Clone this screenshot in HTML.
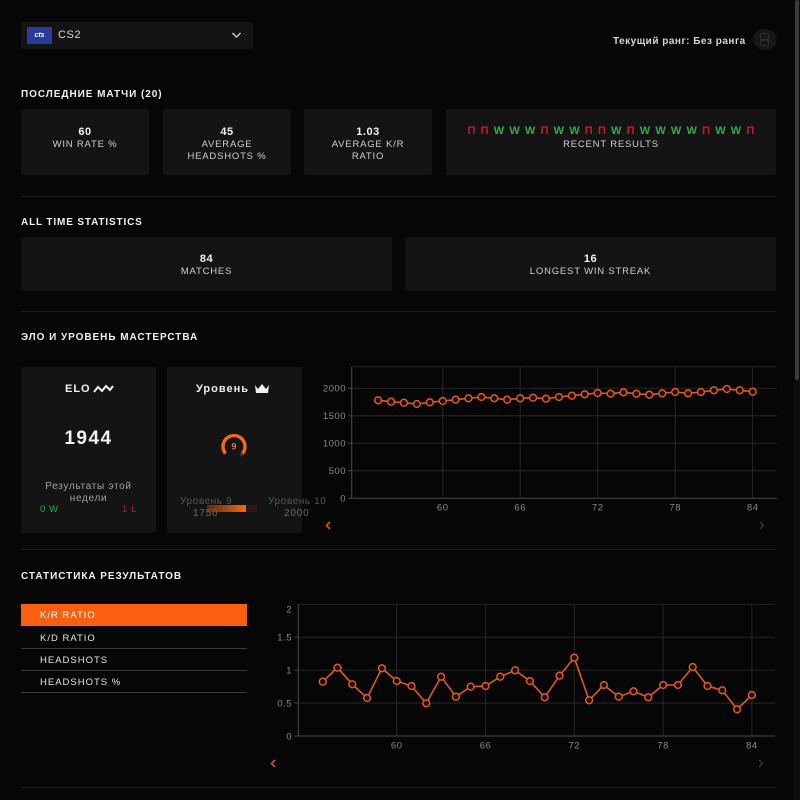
<!DOCTYPE html>
<html><head><meta charset="utf-8">
<style>
*{margin:0;padding:0;box-sizing:border-box}
html,body{width:800px;height:800px;overflow:hidden;background:#060606}
body{position:relative;font-family:"Liberation Sans","DejaVu Sans",sans-serif;color:#e6e6e6}
.a{position:absolute}
.card{position:absolute;background:#141414;border-radius:2px}
.h{position:absolute;font-size:10px;font-weight:bold;color:#f0f0f0;letter-spacing:0.95px;white-space:nowrap}
.sep{position:absolute;left:21px;width:755px;height:1px;background:#1b1b1b}
.num{font-size:11px;font-weight:bold;color:#f2f2f2;text-align:center;line-height:13px;letter-spacing:0.5px}
.lab{font-size:9.5px;color:#cfcfcf;text-align:center;line-height:12px;letter-spacing:0.8px}
.c{position:absolute;text-align:center;white-space:nowrap}
.W{color:#2fae47}.L{color:#c8182c}
.tab{position:absolute;left:40px;font-size:9.5px;letter-spacing:1px;color:#e6e6e6}
</style></head><body>
<!-- scrollbar -->
<div class="a" style="left:794px;top:0;width:6px;height:800px;background:#0d0d0d"></div>
<div class="a" style="left:795px;top:0;width:4px;height:380px;background:#3a3a3a;border-radius:2px"></div>

<!-- dropdown -->
<div class="card" style="left:21px;top:22px;width:232px;height:27px;background:#141414"></div>
<div class="a" style="left:27px;top:27px;width:25px;height:17px;background:#2a3c9a;color:#fff;font-size:7px;font-weight:bold;font-style:italic;text-align:center;line-height:17px">cts</div>
<div class="a" style="left:58px;top:29px;font-size:11px;letter-spacing:0.6px;color:#d8d8d8">CS2</div>
<svg class="a" style="left:231px;top:31px" width="11" height="8"><polyline points="1.5,2 5.5,6 9.5,2" fill="none" stroke="#cfcfcf" stroke-width="1.4"/></svg>

<div class="a" style="left:613px;top:35.5px;font-size:10px;letter-spacing:0.5px;font-weight:bold;color:#d6d6d6;white-space:nowrap">Текущий ранг: Без ранга</div>
<div class="a" style="left:753px;top:29px;width:24px;height:21px;border-radius:50%;background:#171717"></div>
<div class="a" style="left:760px;top:33px;width:9px;height:13px;border:1.5px solid #2c2c2c;border-radius:2px"></div>
<div class="a" style="left:760px;top:39px;width:9px;height:1.5px;background:#2c2c2c"></div>

<!-- recent matches -->
<div class="h" style="left:21px;top:89px">ПОСЛЕДНИЕ МАТЧИ (20)</div>
<div class="card" style="left:21px;top:109px;width:128px;height:66px"></div>
<div class="card" style="left:163px;top:109px;width:128px;height:66px"></div>
<div class="card" style="left:304px;top:109px;width:128px;height:66px"></div>
<div class="card" style="left:446px;top:109px;width:330px;height:66px"></div>
<div class="c" style="left:21px;top:125.5px;width:128px"><div class="num">60</div><div class="lab">WIN RATE %</div></div>
<div class="c" style="left:163px;top:125.5px;width:128px"><div class="num">45</div><div class="lab">AVERAGE<br>HEADSHOTS %</div></div>
<div class="c" style="left:304px;top:125.5px;width:128px"><div class="num">1.03</div><div class="lab">AVERAGE K/R<br>RATIO</div></div>
<div class="c" style="left:446px;top:124.5px;width:330px"><div class="num" style="letter-spacing:5.2px;font-size:11px;padding-left:5px"><span class="L">П</span><span class="L">П</span><span class="W">W</span><span class="W">W</span><span class="W">W</span><span class="L">П</span><span class="W">W</span><span class="W">W</span><span class="L">П</span><span class="L">П</span><span class="W">W</span><span class="L">П</span><span class="W">W</span><span class="W">W</span><span class="W">W</span><span class="W">W</span><span class="L">П</span><span class="W">W</span><span class="W">W</span><span class="L">П</span></div><div class="lab" style="margin-top:1px">RECENT RESULTS</div></div>
<div class="sep" style="top:196px"></div>

<!-- all time -->
<div class="h" style="left:21px;top:217px;letter-spacing:0.85px">ALL TIME STATISTICS</div>
<div class="card" style="left:21px;top:237px;width:371px;height:54px"></div>
<div class="card" style="left:405px;top:237px;width:371px;height:54px"></div>
<div class="c" style="left:21px;top:252.5px;width:371px"><div class="num">84</div><div class="lab">MATCHES</div></div>
<div class="c" style="left:405px;top:252.5px;width:371px"><div class="num">16</div><div class="lab">LONGEST WIN STREAK</div></div>
<div class="sep" style="top:311px"></div>

<!-- elo -->
<div class="h" style="left:21px;top:332px">ЭЛО И УРОВЕНЬ МАСТЕРСТВА</div>
<div class="card" style="left:21px;top:367px;width:135px;height:166px"></div>
<div class="card" style="left:167px;top:367px;width:135px;height:166px"></div>
<div class="a" style="left:65px;top:383px;font-size:11px;letter-spacing:1px;font-weight:bold;color:#f0f0f0">ELO</div>
<svg class="a" style="left:93px;top:384px" width="22" height="10"><polyline points="1,8 5,3 9,7 13,2 17,6 20,2" fill="none" stroke="#f0f0f0" stroke-width="2"/></svg>
<div class="c" style="left:21px;top:428px;width:135px;font-size:19px;letter-spacing:1.5px;font-weight:bold;color:#f2f2f2">1944</div>
<div class="c" style="left:21px;top:481px;width:135px;font-size:10px;color:#a0a0a0;line-height:12px;letter-spacing:0.7px">Результаты этой<br>недели</div>
<div class="a" style="left:40px;top:504px;font-size:9.5px;letter-spacing:0.6px;color:#2fae47">0 W</div>
<div class="a" style="left:122px;top:504px;font-size:9.5px;letter-spacing:0.6px;color:#c8182c">1 L</div>

<div class="a" style="left:196px;top:383px;font-size:11px;letter-spacing:1px;font-weight:bold;color:#f0f0f0">Уровень</div>
<svg class="a" style="left:253px;top:382px" width="18" height="13"><path d="M2,3 L5,7 L9,2 L13,7 L16,3 L15,11 L3,11 Z" fill="#f0f0f0"/></svg>
<svg class="a" style="left:218px;top:431px" width="32" height="30"><path d="M7.5,22.5 A11,11 0 1 1 24.5,22.5" fill="none" stroke="#f26a1b" stroke-width="3.4"/><path d="M24.5,22.5 A11,11 0 0 1 22.5,24.5" fill="none" stroke="#3a3a3a" stroke-width="3"/><text x="16" y="18.5" text-anchor="middle" font-size="9" font-weight="bold" fill="#f26a1b" font-family="Liberation Sans">9</text></svg>
<div class="a" style="left:180px;top:496px;font-size:10px;letter-spacing:0.6px;color:#555;white-space:nowrap">Уровень 9</div>
<div class="a" style="left:207px;top:505px;width:50px;height:7px;background:#2a1a12"></div>
<div class="a" style="left:207px;top:505px;width:39px;height:7px;background:linear-gradient(90deg,#5a2a10,#f26a1b)"></div>
<div class="a" style="left:193px;top:508px;font-size:10px;letter-spacing:0.8px;color:#6a6a6a">1750</div>
<div class="a" style="left:268px;top:496px;font-size:10px;letter-spacing:0.6px;color:#555;white-space:nowrap">Уровень 10</div>
<div class="a" style="left:284px;top:508px;font-size:10px;letter-spacing:0.8px;color:#6a6a6a">2000</div>
<div class="sep" style="top:549px"></div>

<!-- stats -->
<div class="h" style="left:21px;top:571px">СТАТИСТИКА РЕЗУЛЬТАТОВ</div>
<div class="a" style="left:21px;top:604px;width:226px;height:22px;background:#fa5f0f"></div>
<div class="tab" style="top:610px;color:#fff">K/R RATIO</div>
<div class="tab" style="top:632.5px">K/D RATIO</div>
<div class="a" style="left:21px;top:648px;width:226px;height:1px;background:#3a3a3a"></div>
<div class="tab" style="top:654.5px">HEADSHOTS</div>
<div class="a" style="left:21px;top:670px;width:226px;height:1px;background:#3a3a3a"></div>
<div class="tab" style="top:676.5px">HEADSHOTS %</div>
<div class="a" style="left:21px;top:692px;width:226px;height:1px;background:#3a3a3a"></div>
<div class="sep" style="top:787px"></div>

<svg class="a" style="left:0;top:0" width="800" height="800" font-family="Liberation Sans" font-size="9.5" letter-spacing="0.5">
<!-- chart 1 -->
<g stroke="#262626" stroke-width="1">
<line x1="352" y1="366.7" x2="777" y2="366.7"/>
<line x1="352" y1="388.3" x2="777" y2="388.3"/>
<line x1="352" y1="415.8" x2="777" y2="415.8"/>
<line x1="352" y1="443.3" x2="777" y2="443.3"/>
<line x1="352" y1="470.8" x2="777" y2="470.8"/>
<line x1="442.7" y1="366.7" x2="442.7" y2="498.3"/>
<line x1="520.2" y1="366.7" x2="520.2" y2="498.3"/>
<line x1="597.7" y1="366.7" x2="597.7" y2="498.3"/>
<line x1="675.2" y1="366.7" x2="675.2" y2="498.3"/>
<line x1="752.7" y1="366.7" x2="752.7" y2="498.3"/>
</g>
<g stroke="#4a4a4a" stroke-width="1">
<line x1="351.7" y1="366.7" x2="351.7" y2="498.3"/>
<line x1="351.7" y1="498.3" x2="777" y2="498.3"/>
<line x1="348" y1="388.3" x2="352" y2="388.3"/><line x1="348" y1="415.8" x2="352" y2="415.8"/><line x1="348" y1="443.3" x2="352" y2="443.3"/><line x1="348" y1="470.8" x2="352" y2="470.8"/><line x1="348" y1="498.3" x2="352" y2="498.3"/>
</g>
<g fill="#8a8a8a" text-anchor="end">
<text x="346" y="391.5">2000</text><text x="346" y="419">1500</text><text x="346" y="446.5">1000</text><text x="346" y="474">500</text><text x="346" y="501.5">0</text>
</g>
<g fill="#8a8a8a" text-anchor="middle">
<text x="442.7" y="510.5">60</text><text x="520.2" y="510.5">66</text><text x="597.7" y="510.5">72</text><text x="675.2" y="510.5">78</text><text x="752.7" y="510.5">84</text>
</g>
<polyline fill="none" stroke="#de5a22" stroke-width="1.6" points="378.1,400.3 391.0,401.7 403.9,402.7 416.9,404 429.8,402.3 442.7,401 455.6,399.7 468.5,398.3 481.4,397 494.3,398.3 507.2,399.7 520.2,398.3 533.1,397.7 546.0,398.7 558.9,397 571.8,395.7 584.7,394.3 597.7,393 610.6,393.7 623.5,392.3 636.4,393.7 649.3,394.7 662.3,393.3 675.2,392 688.1,393.3 701.0,392 713.9,390.3 726.8,389 739.7,390.3 752.7,391.7"/>
<g fill="#1a0c06" stroke="#de5a22" stroke-width="1.5">
<circle cx="378.1" cy="400.3" r="3.4"/><circle cx="391.0" cy="401.7" r="3.4"/><circle cx="403.9" cy="402.7" r="3.4"/><circle cx="416.9" cy="404" r="3.4"/><circle cx="429.8" cy="402.3" r="3.4"/><circle cx="442.7" cy="401" r="3.4"/><circle cx="455.6" cy="399.7" r="3.4"/><circle cx="468.5" cy="398.3" r="3.4"/><circle cx="481.4" cy="397" r="3.4"/><circle cx="494.3" cy="398.3" r="3.4"/><circle cx="507.2" cy="399.7" r="3.4"/><circle cx="520.2" cy="398.3" r="3.4"/><circle cx="533.1" cy="397.7" r="3.4"/><circle cx="546.0" cy="398.7" r="3.4"/><circle cx="558.9" cy="397" r="3.4"/><circle cx="571.8" cy="395.7" r="3.4"/><circle cx="584.7" cy="394.3" r="3.4"/><circle cx="597.7" cy="393" r="3.4"/><circle cx="610.6" cy="393.7" r="3.4"/><circle cx="623.5" cy="392.3" r="3.4"/><circle cx="636.4" cy="393.7" r="3.4"/><circle cx="649.3" cy="394.7" r="3.4"/><circle cx="662.3" cy="393.3" r="3.4"/><circle cx="675.2" cy="392" r="3.4"/><circle cx="688.1" cy="393.3" r="3.4"/><circle cx="701.0" cy="392" r="3.4"/><circle cx="713.9" cy="390.3" r="3.4"/><circle cx="726.8" cy="389" r="3.4"/><circle cx="739.7" cy="390.3" r="3.4"/><circle cx="752.7" cy="391.7" r="3.4"/>
</g>
<polyline points="330,522 326.5,525.5 330,529" fill="none" stroke="#d8501a" stroke-width="1.6"/>
<polyline points="760,522 763.5,525.5 760,529" fill="none" stroke="#3a3a3a" stroke-width="1.3"/>

<!-- chart 2 -->
<g stroke="#262626" stroke-width="1">
<line x1="298.3" y1="604.3" x2="775" y2="604.3"/>
<line x1="298.3" y1="637.2" x2="775" y2="637.2"/>
<line x1="298.3" y1="670.2" x2="775" y2="670.2"/>
<line x1="298.3" y1="703.1" x2="775" y2="703.1"/>
<line x1="396.7" y1="604.3" x2="396.7" y2="736"/>
<line x1="485.5" y1="604.3" x2="485.5" y2="736"/>
<line x1="574.3" y1="604.3" x2="574.3" y2="736"/>
<line x1="663.1" y1="604.3" x2="663.1" y2="736"/>
<line x1="751.9" y1="604.3" x2="751.9" y2="736"/>
</g>
<g stroke="#4a4a4a" stroke-width="1">
<line x1="298.3" y1="604.3" x2="298.3" y2="736"/>
<line x1="298.3" y1="736" x2="775" y2="736"/>
<line x1="294.5" y1="637.2" x2="298.3" y2="637.2"/><line x1="294.5" y1="670.2" x2="298.3" y2="670.2"/><line x1="294.5" y1="703.1" x2="298.3" y2="703.1"/><line x1="294.5" y1="736" x2="298.3" y2="736"/>
</g>
<g fill="#8a8a8a" text-anchor="end">
<text x="292" y="612.5">2</text><text x="292" y="640.5">1.5</text><text x="292" y="673.5">1</text><text x="292" y="706.5">0.5</text><text x="292" y="739.3">0</text>
</g>
<g fill="#8a8a8a" text-anchor="middle">
<text x="396.7" y="748.5">60</text><text x="485.5" y="748.5">66</text><text x="574.3" y="748.5">72</text><text x="663.1" y="748.5">78</text><text x="751.9" y="748.5">84</text>
</g>
<polyline fill="none" stroke="#de5a22" stroke-width="1.6" points="322.7,681.7 337.5,667.7 352.3,684.3 367.1,698 381.9,668.3 396.7,681 411.5,686 426.3,703.3 441.1,676.7 455.9,696.7 470.7,686.7 485.5,686 500.3,676.7 515.1,670.3 529.9,681 544.7,697.3 559.5,675.7 574.3,657.7 589.1,700.3 603.9,685 618.7,696.7 633.5,691.3 648.3,697.3 663.1,685 677.9,685 692.7,667 707.5,686 722.3,690.3 737.1,709.3 751.9,695"/>
<g fill="#1a0c06" stroke="#de5a22" stroke-width="1.5">
<circle cx="322.7" cy="681.7" r="3.4"/><circle cx="337.5" cy="667.7" r="3.4"/><circle cx="352.3" cy="684.3" r="3.4"/><circle cx="367.1" cy="698" r="3.4"/><circle cx="381.9" cy="668.3" r="3.4"/><circle cx="396.7" cy="681" r="3.4"/><circle cx="411.5" cy="686" r="3.4"/><circle cx="426.3" cy="703.3" r="3.4"/><circle cx="441.1" cy="676.7" r="3.4"/><circle cx="455.9" cy="696.7" r="3.4"/><circle cx="470.7" cy="686.7" r="3.4"/><circle cx="485.5" cy="686" r="3.4"/><circle cx="500.3" cy="676.7" r="3.4"/><circle cx="515.1" cy="670.3" r="3.4"/><circle cx="529.9" cy="681" r="3.4"/><circle cx="544.7" cy="697.3" r="3.4"/><circle cx="559.5" cy="675.7" r="3.4"/><circle cx="574.3" cy="657.7" r="3.4"/><circle cx="589.1" cy="700.3" r="3.4"/><circle cx="603.9" cy="685" r="3.4"/><circle cx="618.7" cy="696.7" r="3.4"/><circle cx="633.5" cy="691.3" r="3.4"/><circle cx="648.3" cy="697.3" r="3.4"/><circle cx="663.1" cy="685" r="3.4"/><circle cx="677.9" cy="685" r="3.4"/><circle cx="692.7" cy="667" r="3.4"/><circle cx="707.5" cy="686" r="3.4"/><circle cx="722.3" cy="690.3" r="3.4"/><circle cx="737.1" cy="709.3" r="3.4"/><circle cx="751.9" cy="695" r="3.4"/>
</g>
<polyline points="275,760 271.5,763.5 275,767" fill="none" stroke="#d8501a" stroke-width="1.6"/>
<polyline points="759,760 762.5,763.5 759,767" fill="none" stroke="#3a3a3a" stroke-width="1.3"/>
</svg>
</body></html>
